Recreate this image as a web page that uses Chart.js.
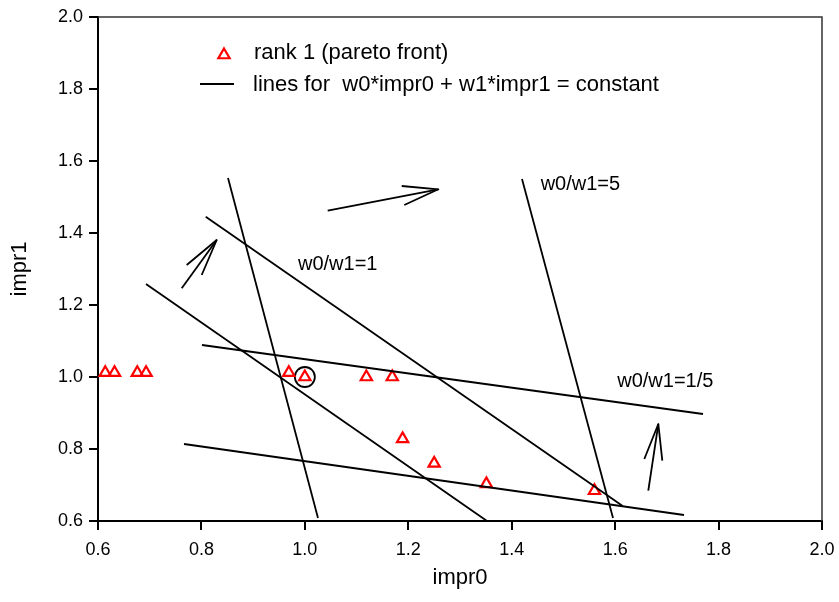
<!DOCTYPE html>
<html>
<head>
<meta charset="utf-8">
<script src="https://cdn.jsdelivr.net/npm/chart.js@4.4.1/dist/chart.umd.min.js"></script>
<style>
  html, body { margin: 0; padding: 0; background: #ffffff; }
  #wrap { width: 839px; height: 602px; }
</style>
</head>
<body>
<div id="wrap"><canvas id="c" width="839" height="602"></canvas></div>
<script>
// ---- data ----
const paretoX = [0.614, 0.632, 0.676, 0.693, 0.969, 1.0, 1.119, 1.169, 1.189, 1.25, 1.351, 1.56];
const paretoY = [1.012, 1.012, 1.012, 1.012, 1.012, 1.0, 1.0, 1.0, 0.828, 0.76, 0.703, 0.684];

const highlightX = [1.0];
const highlightY = [1.0];

// lines w0*impr0 + w1*impr1 = constant (start / end points)
const lineStartX = [0.8514, 0.8083, 0.6928, 0.8011, 0.7663, 1.4199];
const lineStartY = [1.5528, 1.4453, 1.2583, 1.0889, 0.8139, 1.5500];
const lineEndX   = [1.0254, 1.6146, 1.3522, 1.7699, 1.7332, 1.5959];
const lineEndY   = [0.6083, 0.6417, 0.6000, 0.8972, 0.6167, 0.6083];

// arrows: tail, tip, and the two head ends
const arrowTailX = [0.7619, 1.0442, 1.6641];
const arrowTailY = [1.2464, 1.4619, 0.6842];
const arrowTipX  = [0.8295, 1.2581, 1.6835];
const arrowTipY  = [1.3806, 1.5214, 0.8694];
const headAX     = [0.7715, 1.1873, 1.6564];
const headAY     = [1.3111, 1.5306, 0.7722];
const headBX     = [0.8005, 1.1923, 1.6912];
const headBY     = [1.2833, 1.4778, 0.7675];

// text annotations (data coordinates of left/baseline)
const noteTexts = ['w0/w1=1', 'w0/w1=5', 'w0/w1=1/5'];
const noteX = [0.9867, 1.456, 1.604];
const noteY = [1.2986, 1.519, 0.973];

const xTicks = [0.6, 0.8, 1.0, 1.2, 1.4, 1.6, 1.8, 2.0];
const yTicks = [0.6, 0.8, 1.0, 1.2, 1.4, 1.6, 1.8, 2.0];

const legendLabels = ['rank 1 (pareto front)', 'lines for  w0*impr0 + w1*impr1 = constant'];
const xTitle = 'impr0';
const yTitle = 'impr1';

// ---- build datasets ----
const FONT = "'Liberation Sans', Arial, Helvetica, sans-serif";
const datasets = [];

for (let i = 0; i < lineStartX.length; i++) {
  datasets.push({
    type: 'scatter', showLine: true,
    data: [{x: lineStartX[i], y: lineStartY[i]}, {x: lineEndX[i], y: lineEndY[i]}],
    borderColor: '#000', borderWidth: 1.8, pointRadius: 0, pointHoverRadius: 0
  });
}
for (let i = 0; i < arrowTailX.length; i++) {
  datasets.push({
    type: 'scatter', showLine: true,
    data: [{x: arrowTailX[i], y: arrowTailY[i]}, {x: arrowTipX[i], y: arrowTipY[i]}],
    borderColor: '#000', borderWidth: 1.8, pointRadius: 0, pointHoverRadius: 0
  });
  datasets.push({
    type: 'scatter', showLine: true,
    data: [{x: headAX[i], y: headAY[i]}, {x: arrowTipX[i], y: arrowTipY[i]}, {x: headBX[i], y: headBY[i]}],
    borderColor: '#000', borderWidth: 1.8, borderJoinStyle: 'round', pointRadius: 0, pointHoverRadius: 0
  });
}
datasets.push({
  type: 'scatter',
  data: paretoX.map((x, i) => ({x: x, y: paretoY[i]})),
  pointStyle: 'triangle', pointRadius: 6.5, pointBorderWidth: 2.2,
  pointBorderColor: '#ff0000', pointBackgroundColor: 'rgba(0,0,0,0)', showLine: false
});
datasets.push({
  type: 'scatter',
  data: highlightX.map((x, i) => ({x: x, y: highlightY[i]})),
  pointStyle: 'circle', pointRadius: 10, pointBorderWidth: 1.8,
  pointBorderColor: '#000', pointBackgroundColor: 'rgba(0,0,0,0)', showLine: false
});

const decor = {
  id: 'decor',
  afterDatasetsDraw(chart) {
    const {ctx, chartArea: a, scales: {x, y}} = chart;
    ctx.save();
    // top & right frame
    ctx.strokeStyle = '#333';
    ctx.lineWidth = 1.5;
    ctx.beginPath();
    ctx.moveTo(a.left, a.top);
    ctx.lineTo(a.right, a.top);
    ctx.lineTo(a.right, a.bottom);
    ctx.stroke();
    // annotations
    ctx.fillStyle = '#000';
    ctx.font = '20px ' + FONT;
    ctx.textAlign = 'left';
    ctx.textBaseline = 'alphabetic';
    noteTexts.forEach((t, i) => {
      ctx.fillText(t, x.getPixelForValue(noteX[i]), y.getPixelForValue(noteY[i]));
    });
    // legend
    ctx.font = '22px ' + FONT;
    // triangle marker
    const tx = 224, ty = 55, r = 6.5;
    ctx.strokeStyle = '#ff0000';
    ctx.lineWidth = 2.2;
    ctx.beginPath();
    ctx.moveTo(tx, ty - r);
    ctx.lineTo(tx + 0.866 * r, ty + 0.5 * r);
    ctx.lineTo(tx - 0.866 * r, ty + 0.5 * r);
    ctx.closePath();
    ctx.stroke();
    ctx.fillText(legendLabels[0], 254, 59);
    // line marker
    ctx.strokeStyle = '#000';
    ctx.lineWidth = 1.8;
    ctx.beginPath();
    ctx.moveTo(200, 84);
    ctx.lineTo(234, 84);
    ctx.stroke();
    ctx.fillText(legendLabels[1], 253, 90.5);
    ctx.restore();
  }
};

new Chart(document.getElementById('c'), {
  type: 'scatter',
  data: { datasets: datasets },
  options: {
    responsive: false,
    animation: false,
    events: [],
    layout: { padding: { top: 17, right: 17, left: 0, bottom: 0 } },
    plugins: { legend: { display: false }, tooltip: { enabled: false } },
    scales: {
      x: {
        type: 'linear', min: 0.6, max: 2.0,
        afterFit(s) { s.height = 81; },
        afterBuildTicks(s) { s.ticks = xTicks.map(v => ({value: v})); },
        ticks: { color: '#000', font: { family: FONT, size: 18, lineHeight: 1.75 }, padding: 4,
                 callback: v => Number(v).toFixed(1), maxRotation: 0 },
        grid: { drawOnChartArea: false, drawTicks: true, tickLength: 9, color: '#000', lineWidth: 2 },
        border: { color: '#000', width: 2 },
        title: { display: true, text: xTitle, color: '#000', font: { family: FONT, size: 22 },
                 padding: { top: 0, bottom: 11 } }
      },
      y: {
        type: 'linear', min: 0.6, max: 2.0,
        afterFit(s) { s.width = 98; },
        afterBuildTicks(s) { s.ticks = yTicks.map(v => ({value: v})); },
        ticks: { color: '#000', font: { family: FONT, size: 18 }, padding: 6,
                 callback: v => Number(v).toFixed(1) },
        grid: { drawOnChartArea: false, drawTicks: true, tickLength: 9, color: '#000', lineWidth: 2 },
        border: { color: '#000', width: 2 },
        title: { display: true, text: yTitle, color: '#000', font: { family: FONT, size: 22 },
                 padding: { top: 7, bottom: 0 } }
      }
    }
  },
  plugins: [decor]
});
</script>
</body>
</html>
